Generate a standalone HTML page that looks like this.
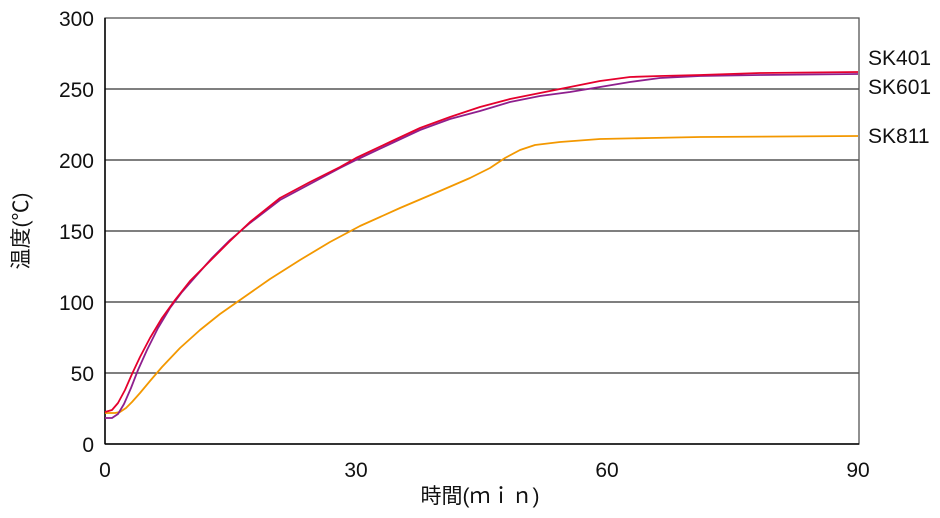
<!DOCTYPE html>
<html><head><meta charset="utf-8"><style>
body{margin:0;background:#fff;width:940px;height:513px;overflow:hidden}
text{font-family:"Liberation Sans","Noto Sans CJK JP",sans-serif;fill:#111}
</style></head><body>
<svg width="940" height="513" viewBox="0 0 940 513">
<g stroke="#333" stroke-width="1.3">
<line x1="105" y1="373" x2="859" y2="373"/>
<line x1="105" y1="302" x2="859" y2="302"/>
<line x1="105" y1="231" x2="859" y2="231"/>
<line x1="105" y1="160" x2="859" y2="160"/>
<line x1="105" y1="89" x2="859" y2="89"/>
</g>
<rect x="105" y="18" width="754" height="426" fill="none" stroke="#555" stroke-width="1.3"/>
<line x1="105" y1="18" x2="105" y2="444" stroke="#000" stroke-width="1.5"/>
<line x1="105" y1="444" x2="859" y2="444" stroke="#000" stroke-width="1.5"/>
<g fill="none" stroke-width="1.8" stroke-linejoin="round">
<polyline stroke="#f39800" points="105,413 115,413 120,412 126,408 132,402 140,393 150,381 162,367 180,348 200,330 220,314 240,300 270,279 300,260 330,242 360,226 400,208 440,191 470,178 490,168 505,158 520,150 535,145 560,142 600,139 650,138 700,137 858,136"/>
<polyline stroke="#8e1f8e" points="105,418 112,418 118,414 124,404 131,388 138,370 147,350 158,328 170,308 182,292 196,276 212,258 230,240 250,223 280,200 310,184 340,168 356,160 390,144 420,130 450,119 480,111 510,102 540,96 570,92 600,87 630,82 660,78 700,76 760,75 858,74"/>
<polyline stroke="#e5002d" points="105,412 112,410 118,403 125,390 132,374 140,357 150,338 162,318 175,300 190,281 210,261 230,241 250,222 280,198 310,182 340,167 356,158 390,142 420,128 450,117 480,107 510,99 540,93 570,87 600,81 630,77 660,76 700,75 760,73 858,72"/>
</g>
<g font-size="21" text-anchor="end">
<text x="94" y="452">0</text><text x="94" y="381">50</text><text x="94" y="310">100</text>
<text x="94" y="239">150</text><text x="94" y="168">200</text><text x="94" y="97">250</text>
<text x="94" y="26">300</text>
</g>
<g font-size="21" text-anchor="middle">
<text x="105" y="477">0</text><text x="356" y="477">30</text><text x="607" y="477">60</text><text x="858" y="477">90</text>
<text x="480" y="503">時間(ｍｉｎ)</text>
</g>
<g font-size="21">
<text x="868" y="65">SK401</text><text x="868" y="94">SK601</text><text x="868" y="143">SK811</text>
</g>
<text font-size="21" transform="translate(28,231) rotate(-90)" text-anchor="middle">温度(℃)</text>
</svg>
</body></html>
